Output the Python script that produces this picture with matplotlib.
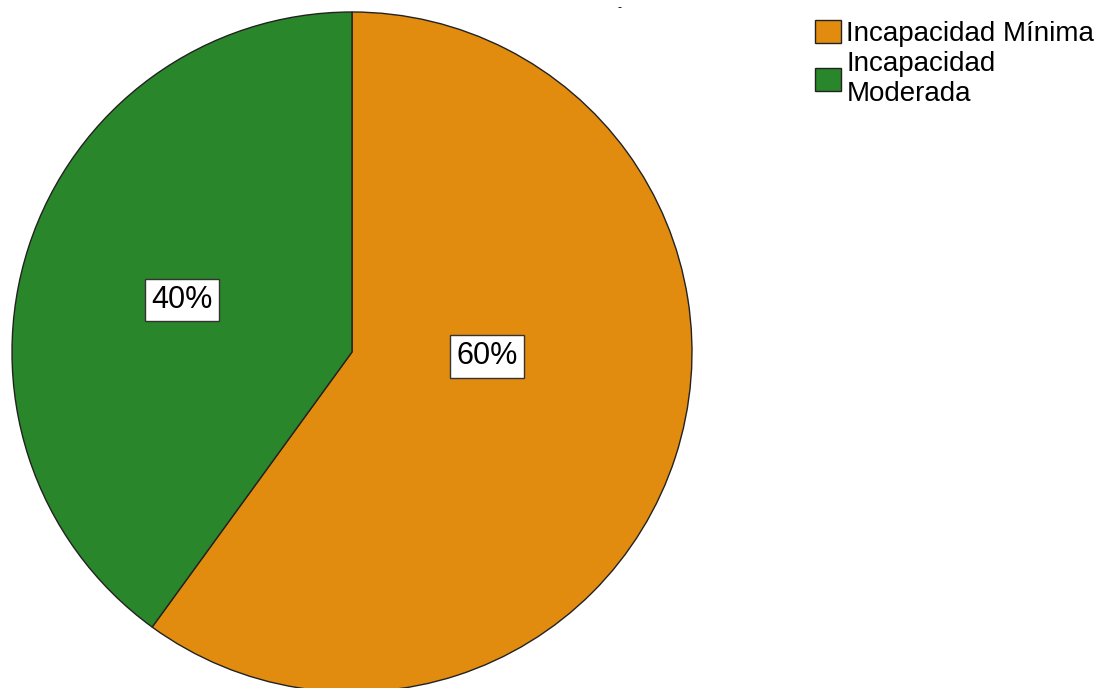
import numpy as np
import matplotlib.pyplot as plt

# Data
categorias = ['Incapacidad Mínima', 'Incapacidad\nModerada']
porcentajes = [60, 40]
colores = ['#E18B0F', '#2A862A']

plt.rcParams['font.family'] = ['Liberation Sans', 'DejaVu Sans']

fig = plt.figure(figsize=(11, 6.88), dpi=100)
ax = fig.add_axes([12 / 1100, -4 / 688, 680 / 1100, 680 / 688])

# orange slice goes clockwise from the top, green fills the rest
wedges, texts, autotexts = ax.pie(
    porcentajes, colors=colores, startangle=90, counterclock=False,
    autopct='%1.0f%%', pctdistance=0.5,
    wedgeprops=dict(edgecolor='#222222', linewidth=1.0),
    textprops=dict(fontsize=22, color='black'))

for t in autotexts:
    t.set_bbox(dict(boxstyle='square,pad=0.2', facecolor='white',
                    edgecolor='#333333', linewidth=1.0))
# label spots as in the original
autotexts[0].set_position((0.397, -0.013))
autotexts[1].set_position((-0.50, 0.152))

ax.set_xlim(-1, 1)
ax.set_ylim(-1, 1)
ax.set_aspect('equal')
ax.axis('off')

leg = fig.legend(wedges, categorias, loc='upper left',
                 bbox_to_anchor=(815 / 1100, 1 - 20 / 688),
                 frameon=False, fontsize=20, handlelength=0.95,
                 handleheight=0.9, handletextpad=0.18, borderpad=0,
                 borderaxespad=0, labelspacing=0.15)
for h in leg.legend_handles:
    h.set_edgecolor('#222222')
    h.set_linewidth(1.0)

# small stray mark at the top (empty title)
fig.text(620 / 1100, 1 - 8 / 688, '-', fontsize=9, ha='center', va='center')

fig.savefig('out.png', dpi=100)
